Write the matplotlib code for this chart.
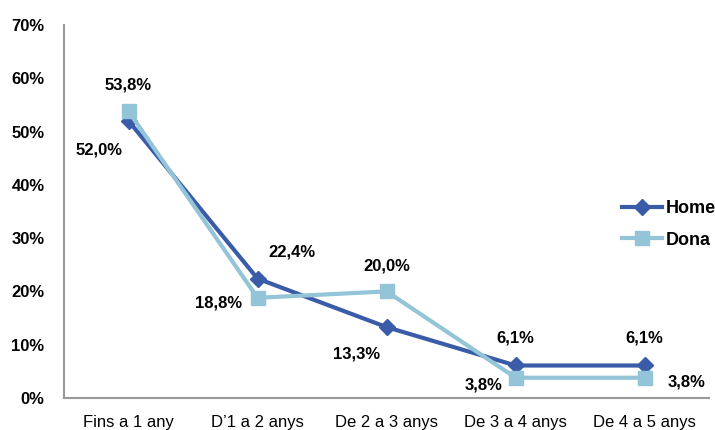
import matplotlib.pyplot as plt
from matplotlib import font_manager

# Dades
categories = ["Fins a 1 any", "D\u20191 a 2 anys", "De 2 a 3 anys", "De 3 a 4 anys", "De 4 a 5 anys"]
home = [52.0, 22.4, 13.3, 6.1, 6.1]
dona = [53.8, 18.8, 20.0, 3.8, 3.8]

# desplaçaments de les etiquetes (punts)
home_off = [(-21, -21), (25, 19), (-22, -19), (0, 20), (0, 20)]
dona_off = [(0, 19), (-28, -4), (0, 18), (-23, -5), (30, -3)]

names = {f.name for f in font_manager.fontManager.ttflist}
fam = ['Liberation Sans Narrow'] if 'Liberation Sans Narrow' in names else ['Liberation Sans']
plt.rcParams['font.family'] = fam + ['DejaVu Sans']

fig = plt.figure(figsize=(7.15, 4.3), dpi=100)
ax = fig.add_axes([0.0895, 0.0744, 0.9025, 0.8676])

x = list(range(len(categories)))
c_home = '#3a5ca8'
c_dona = '#93c4d7'
ax.plot(x, home, color=c_home, lw=3, marker='D', ms=8, label='Home', zorder=3)
ax.plot(x, dona, color=c_dona, lw=3, marker='s', ms=10, label='Dona', zorder=4)

def fmt(v):
    return f"{v:.1f}%".replace('.', ',')

for i in x:
    ax.annotate(fmt(home[i]), (i, home[i]), xytext=home_off[i], textcoords='offset points',
                ha='center', va='center', fontsize=12, fontweight='bold')
    ax.annotate(fmt(dona[i]), (i, dona[i]), xytext=dona_off[i], textcoords='offset points',
                ha='center', va='center', fontsize=12, fontweight='bold')

ax.set_xlim(-0.5, 4.5)
ax.set_ylim(0, 70)
ax.set_yticks(range(0, 71, 10))
ax.set_yticklabels([f"{v}%" for v in range(0, 71, 10)], fontweight='bold', fontsize=12)
ax.set_xticks(x)
ax.set_xticklabels(categories, fontsize=12)
ax.tick_params(length=0, pad=12)
ax.tick_params(axis='y', pad=14)
for s in ['top', 'right']:
    ax.spines[s].set_visible(False)
for s in ['left', 'bottom']:
    ax.spines[s].set_color('#999999')
    ax.spines[s].set_linewidth(1.5)

leg = ax.legend(loc='center left', bbox_to_anchor=(0.84, 0.465), frameon=False,
                prop={'weight': 'bold', 'size': 13}, handlelength=2.2, handletextpad=0.2,
                labelspacing=0.8)

fig.savefig('out.png', dpi=100)
